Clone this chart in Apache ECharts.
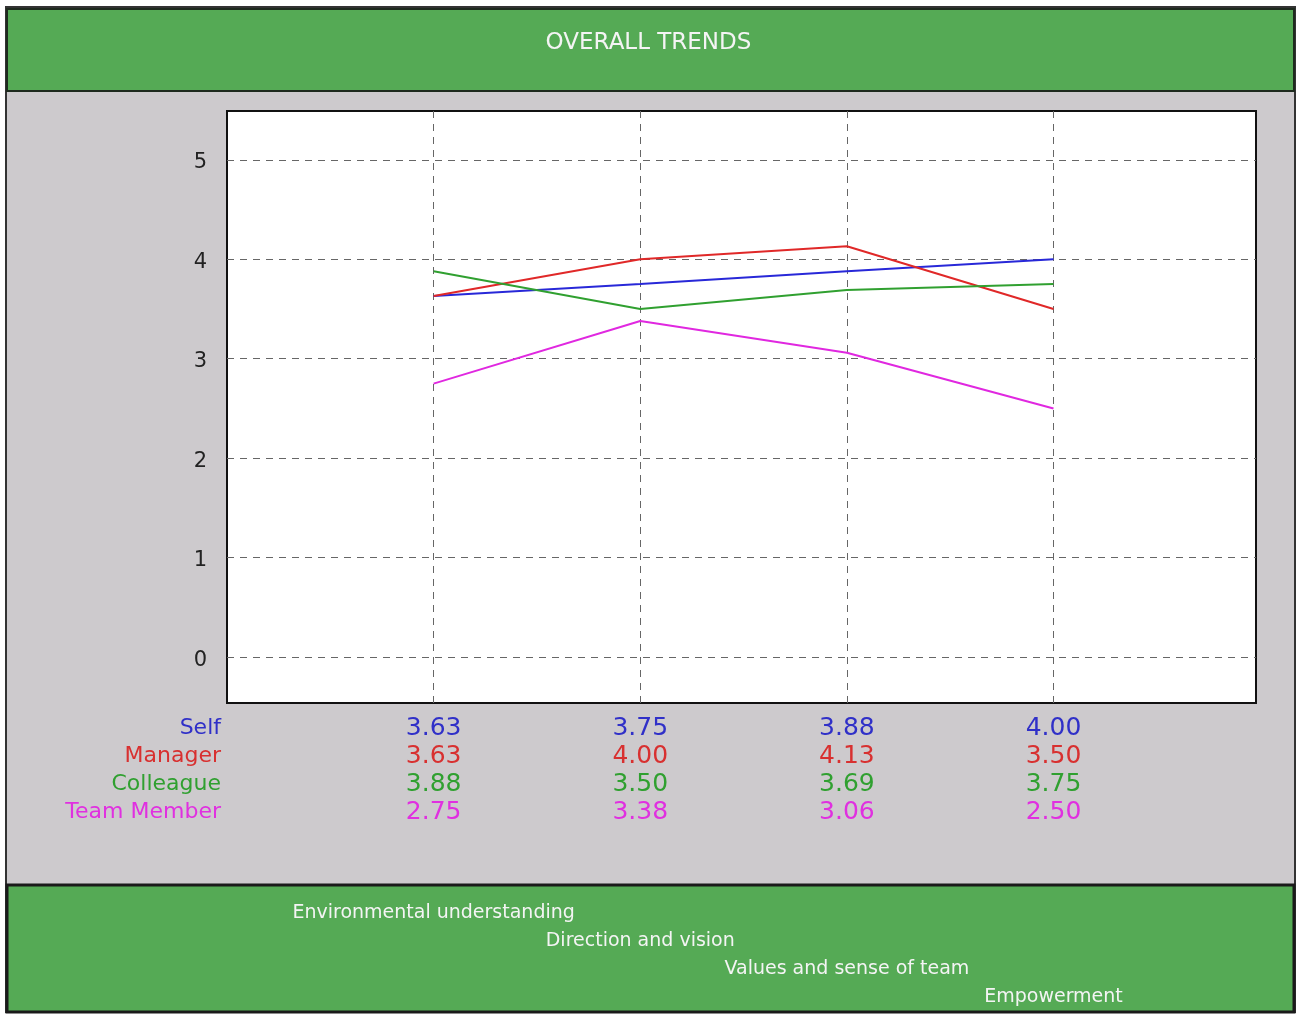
<!DOCTYPE html>
<html>
<head>
<meta charset="utf-8">
<script src="https://cdn.jsdelivr.net/npm/echarts@6/dist/echarts.min.js"></script>
<style>
  html, body { margin: 0; padding: 0; background: #fff; }
  #chart { width: 1297px; height: 1014px; }
</style>
</head>
<body>
<div id="chart"></div>
<script>
const categories = ['Environmental understanding', 'Direction and vision', 'Values and sense of team', 'Empowerment'];
const seriesNames = ['Self', 'Manager', 'Colleague', 'Team Member'];
const selfScores = [3.63, 3.75, 3.88, 4.00];
const managerScores = [3.63, 4.00, 4.13, 3.50];
const colleagueScores = [3.88, 3.50, 3.69, 3.75];
const teamScores = [2.75, 3.38, 3.06, 2.50];
const yTicks = [0, 1, 2, 3, 4, 5];
const xSlots = [1, 2, 3, 4];

const allScores = [selfScores, managerScores, colleagueScores, teamScores];
const lineColors = ['#2828d8', '#e02828', '#30a030', '#e028e0'];
const textColors = ['#3030c8', '#d83030', '#30a030', '#e030e0'];
const fontFam = '"DejaVu Sans", Verdana, sans-serif';

const chart = echarts.init(document.getElementById('chart'));

// rows of the value table under the plot, one hidden x axis each
const rowAxes = seriesNames.map((name, i) => ({
    type: 'value', gridIndex: 0, position: 'bottom',
    min: 0, max: 4.98, interval: 1,
    offset: 25 + i * 28,
    name: name, nameLocation: 'start', nameGap: 6,
    nameTextStyle: { color: textColors[i], fontSize: 22, fontFamily: fontFam, padding: [0, 0, 4, 0] },
    axisLine: { show: false }, axisTick: { show: false }, splitLine: { show: false },
    axisLabel: {
        customValues: xSlots, margin: 0, verticalAlign: 'middle',
        hideOverlap: false, showMinLabel: true, showMaxLabel: true,
        color: textColors[i], fontSize: 25, fontFamily: fontFam,
        formatter: v => allScores[i][v - 1].toFixed(2)
    }
}));

// category names in the green band, stepped down one row each
const catAxes = categories.map((cat, i) => ({
    type: 'value', gridIndex: 0, position: 'bottom',
    min: 0, max: 4.98, interval: 1, offset: 210 + i * 28,
    axisLine: { show: false }, axisTick: { show: false }, splitLine: { show: false },
    axisLabel: {
        customValues: [xSlots[i]], margin: 0, verticalAlign: 'middle',
        showMinLabel: true, showMaxLabel: true,
        color: '#f4f4f4', fontSize: 19, fontFamily: fontFam,
        formatter: () => cat
    }
}));

const option = {
    backgroundColor: '#fff',
    animation: false,
    title: {
        text: 'OVERALL TRENDS', left: 'center', top: 27,
        textStyle: { color: '#f4f4f4', fontSize: 23, fontWeight: 'normal', fontFamily: fontFam }
    },
    graphic: [
        { type: 'rect', z: -10, shape: { x: 6, y: 7, width: 1289, height: 1005 },
          style: { fill: '#cdcacd', stroke: '#333', lineWidth: 2 } },
        { type: 'rect', z: -9, shape: { x: 7, y: 9, width: 1287, height: 82 },
          style: { fill: '#55aa55', stroke: '#1e2a1e', lineWidth: 2 } },
        { type: 'rect', z: -9, shape: { x: 7, y: 885, width: 1287, height: 127 },
          style: { fill: '#55aa55', stroke: '#1a1a1a', lineWidth: 3 } }
    ],
    grid: {
        left: 227, right: 41, top: 111, bottom: 311,
        show: true, backgroundColor: '#fff', borderColor: '#111', borderWidth: 2
    },
    xAxis: [
        {
            type: 'value', min: 0, max: 4.98, interval: 1,
            axisLine: { show: false },
            axisTick: { show: false, customValues: xSlots },
            axisLabel: { show: false },
            splitLine: { show: true, lineStyle: { color: '#666', type: [7, 6], width: 1 } }
        },
        ...rowAxes,
        ...catAxes
    ],
    yAxis: {
        type: 'value', min: -0.46, max: 5.49,
        axisLine: { show: false },
        axisTick: { show: false, customValues: yTicks },
        axisLabel: {
            customValues: yTicks, margin: 20, color: '#222', fontSize: 21, fontFamily: fontFam,
            formatter: v => '{n|' + v + '}',
            rich: { n: { fontSize: 21, fontFamily: fontFam, color: '#222', padding: [6, 0, 0, 0] } }
        },
        splitLine: { show: true, lineStyle: { color: '#666', type: [7, 6], width: 1 } }
    },
    series: allScores.map((vals, i) => ({
        name: seriesNames[i],
        type: 'line',
        xAxisIndex: 0,
        symbol: 'none',
        lineStyle: { color: lineColors[i], width: 2 },
        data: vals.map((v, j) => [xSlots[j], v])
    }))
};

chart.setOption(option);
</script>
</body>
</html>
